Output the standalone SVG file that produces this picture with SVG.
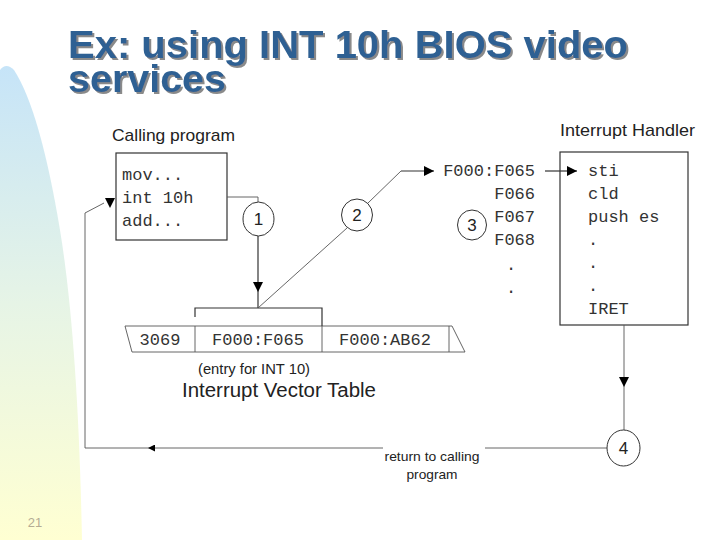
<svg xmlns="http://www.w3.org/2000/svg" width="720" height="540" viewBox="0 0 720 540">
<defs>
  <linearGradient id="side" x1="0" y1="0" x2="0" y2="1">
    <stop offset="0" stop-color="#C6E4F8"/>
    <stop offset="0.5" stop-color="#E6F4E6"/>
    <stop offset="1" stop-color="#FFFFD2"/>
  </linearGradient>
  <filter id="shadow" x="-5%" y="-20%" width="110%" height="140%">
    <feDropShadow dx="2" dy="2" stdDeviation="0.3" flood-color="#8a8a8a" flood-opacity="1"/>
  </filter>
  <marker id="arr" viewBox="0 0 10 10" refX="10" refY="5" markerWidth="10" markerHeight="10" markerUnits="userSpaceOnUse" orient="auto">
    <path d="M0,0 L10,5 L0,10 Z" fill="#000"/>
  </marker>
  <marker id="arrs" viewBox="0 0 10 10" refX="10" refY="5" markerWidth="7" markerHeight="7" markerUnits="userSpaceOnUse" orient="auto">
    <path d="M0,0 L10,5 L0,10 Z" fill="#000"/>
  </marker>
</defs>
<style>
  .title{font-family:"Liberation Sans",Arial,sans-serif;font-weight:bold;font-size:38px;fill:#2F6193;}
  .lbl{font-family:"Liberation Sans",Arial,sans-serif;fill:#222;}
  .mono{font-family:"Liberation Mono","Courier New",monospace;font-size:17px;fill:#333;}
  .ln{fill:none;stroke:#333;stroke-width:1.2;}
  .thin{fill:none;stroke:#555;stroke-width:0.9;}
  .circ{fill:#fff;stroke:#333;stroke-width:1;}
  .num{font-family:"Liberation Sans",Arial,sans-serif;font-size:17px;fill:#222;text-anchor:middle;}
</style>
<rect width="720" height="540" fill="#fff"/>
<path d="M0,540 L0,70 Q6,62 14,70 Q40,110 60,230 Q78,340 82,540 Z" fill="url(#side)"/>
<text x="35" y="527" font-family="Liberation Sans,Arial,sans-serif" font-size="13" fill="#B4AC94" text-anchor="middle">21</text>

<g id="title" filter="url(#shadow)">
  <text class="title" x="68" y="58" textLength="560" lengthAdjust="spacingAndGlyphs">Ex: using INT 10h BIOS video</text>
  <text class="title" x="68" y="92" textLength="158" lengthAdjust="spacingAndGlyphs">services</text>
</g>

<g id="calling-program">
  <text class="lbl" x="112" y="141" font-size="17" textLength="123" lengthAdjust="spacingAndGlyphs">Calling program</text>
  <rect x="116" y="153" width="111" height="87" fill="#fff" stroke="#333" stroke-width="1.2"/>
  <text class="mono" x="122" y="180">mov...</text>
  <text class="mono" x="122" y="203">int 10h</text>
  <text class="mono" x="122" y="226">add...</text>
</g>

<g id="ivt">
  <path class="thin" d="M125,326 L452,326 M125,326 L132,352 L465,352 L452,326 M195,326 L195,352 M322,326 L322,352 M449,326 L449,352"/>
  <text class="mono" x="160" y="345" text-anchor="middle">3069</text>
  <text class="mono" x="258" y="345" text-anchor="middle">F000:F065</text>
  <text class="mono" x="385" y="345" text-anchor="middle">F000:AB62</text>
  <text class="lbl" x="254" y="374" font-size="14" text-anchor="middle" textLength="112" lengthAdjust="spacingAndGlyphs">(entry for INT 10)</text>
  <text class="lbl" x="279" y="397" font-size="20" text-anchor="middle" textLength="194" lengthAdjust="spacingAndGlyphs">Interrupt Vector Table</text>
</g>

<g id="addresses">
  <text class="mono" x="535" y="176" text-anchor="end">F000:F065</text>
  <text class="mono" x="535" y="199" text-anchor="end">F066</text>
  <text class="mono" x="535" y="222" text-anchor="end">F067</text>
  <text class="mono" x="535" y="245" text-anchor="end">F068</text>
  <text class="mono" x="511" y="270" text-anchor="middle">.</text>
  <text class="mono" x="511" y="293" text-anchor="middle">.</text>
</g>

<g id="interrupt-handler">
  <text class="lbl" x="560" y="136" font-size="17" textLength="135" lengthAdjust="spacingAndGlyphs">Interrupt Handler</text>
  <rect x="560" y="152" width="128" height="173" fill="#fff" stroke="#333" stroke-width="1.2"/>
  <text class="mono" x="588" y="176">sti</text>
  <text class="mono" x="588" y="199">cld</text>
  <text class="mono" x="588" y="222">push es</text>
  <text class="mono" x="588" y="245">.</text>
  <text class="mono" x="588" y="268">.</text>
  <text class="mono" x="588" y="291">.</text>
  <text class="mono" x="588" y="314">IRET</text>
</g>

<g id="connectors">
  <path class="thin" d="M227,197 L258,197 L258,202"/>
  <path class="ln" d="M258,236 L258,292" marker-end="url(#arr)"/>
  <path class="ln" d="M258,292 L258,308"/>
  <path class="ln" d="M195,317 L195,308 L322,308 L322,326"/>
  <path class="thin" d="M347,228 L258,308"/>
  <path class="thin" d="M368,203 L401,171"/>
  <path class="ln" d="M401,171 L434,171" marker-end="url(#arr)"/>
  <path class="ln" d="M545,171 L577,171" marker-end="url(#arr)"/>
  <path class="thin" d="M624,325 L624,387" marker-end="url(#arr)"/>
  <path class="thin" d="M624,387 L624,430"/>
  <path class="thin" d="M607,448 L485,448"/>
  <path class="thin" d="M383,448 L148,448" marker-end="url(#arrs)"/>
  <path class="thin" d="M148,448 L85,448 L85,213 L104,203"/>
  <path d="M105,198 L115,198 L110,208 Z" fill="#000"/>
  <text class="lbl" x="432" y="461" font-size="13" text-anchor="middle" textLength="95" lengthAdjust="spacingAndGlyphs">return to calling</text>
  <text class="lbl" x="432" y="479" font-size="13" text-anchor="middle" textLength="51" lengthAdjust="spacingAndGlyphs">program</text>
</g>

<g id="step1">
  <ellipse class="circ" cx="258.5" cy="219" rx="15.5" ry="17"/>
  <text class="num" x="258.5" y="225">1</text>
</g>
<g id="step2">
  <ellipse class="circ" cx="357" cy="215" rx="15.5" ry="16"/>
  <text class="num" x="357" y="221">2</text>
</g>
<g id="step3">
  <ellipse class="circ" cx="472" cy="225" rx="14.5" ry="15"/>
  <text class="num" x="472" y="231">3</text>
</g>
<g id="step4">
  <ellipse class="circ" cx="623.5" cy="448" rx="16.5" ry="18"/>
  <text class="num" x="623.5" y="454">4</text>
</g>
</svg>
